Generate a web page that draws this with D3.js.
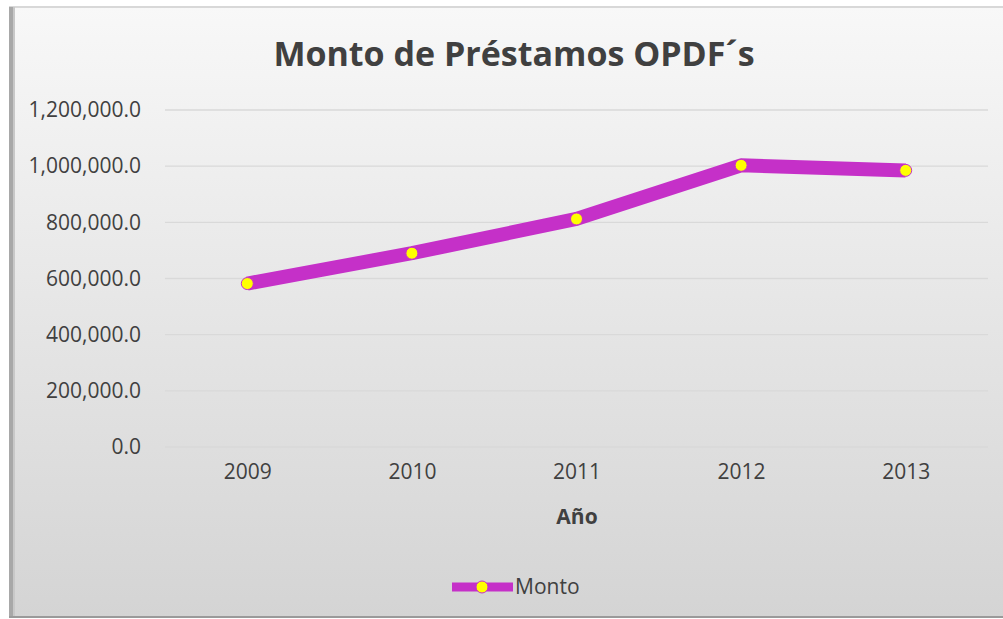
<!DOCTYPE html>
<html lang="es">
<head>
  <meta charset="UTF-8">
  <title>Monto de Préstamos OPDF´s</title>
  <script src="https://d3js.org/d3.v7.min.js"></script>
  <style>
    body { margin: 0; background: #ffffff; }
    svg text { font-family: "Open Sans", sans-serif; fill: #404040; }
  </style>
</head>
<body>
  <svg width="1003" height="619"></svg>
  <script>
    // data
    const years = ["2009", "2010", "2011", "2012", "2013"];
    const monto = [582000, 690000, 812000, 1003000, 985000];
    const yTicks = [0, 200000, 400000, 600000, 800000, 1000000, 1200000];

    const W = 1003, H = 619;
    const margin = { top: 110, right: 15, bottom: 172, left: 165 };
    const width = W - margin.left - margin.right;
    const height = H - margin.top - margin.bottom;

    const svg = d3.select("svg");

    // background gradient
    const defs = svg.append("defs");
    const grad = defs.append("linearGradient")
      .attr("id", "bg").attr("x1", 0).attr("y1", 0).attr("x2", 0).attr("y2", 1);
    grad.append("stop").attr("offset", "0%").attr("stop-color", "#f8f8f8");
    grad.append("stop").attr("offset", "100%").attr("stop-color", "#d4d4d4");

    svg.append("rect").attr("x", 9).attr("y", 6).attr("width", W - 9).attr("height", 611)
      .attr("fill", "url(#bg)");
    // frame edges
    svg.append("line").attr("x1", 9).attr("x2", W).attr("y1", 7).attr("y2", 7)
      .attr("stroke", "#d8d8d8").attr("stroke-width", 2);
    svg.append("rect").attr("x", 9).attr("y", 7).attr("width", 4).attr("height", 610)
      .attr("fill", "#a8a8a8");
    svg.append("rect").attr("x", 13).attr("y", 7).attr("width", 2).attr("height", 610)
      .attr("fill", "#c8c8c8");
    svg.append("line").attr("x1", 9).attr("x2", W).attr("y1", 617).attr("y2", 617)
      .attr("stroke", "#9a9a9a").attr("stroke-width", 2);

    const g = svg.append("g").attr("transform", `translate(${margin.left},${margin.top})`);

    const x = d3.scalePoint().domain(years).range([0, width]).padding(0.5);
    const y = d3.scaleLinear().domain([0, 1200000]).range([height, 0]);

    // gridlines
    g.selectAll(".grid").data(yTicks).enter().append("line")
      .attr("x1", 0).attr("x2", width)
      .attr("y1", d => y(d)).attr("y2", d => y(d))
      .attr("stroke", "#d9d9d9").attr("stroke-width", 1.3);

    // y axis
    const fmt = d3.format(",.1f");
    const yAxis = g.append("g")
      .call(d3.axisLeft(y).tickValues(yTicks).tickFormat(fmt).tickSize(0).tickPadding(24));
    yAxis.select(".domain").remove();
    yAxis.selectAll("text").attr("font-size", 21).style("font-family", "'Open Sans', sans-serif").attr("fill", "#404040");

    // x axis
    const xAxis = g.append("g").attr("transform", `translate(0,${height})`)
      .call(d3.axisBottom(x).tickSize(0).tickPadding(17));
    xAxis.select(".domain").remove();
    xAxis.selectAll("text").attr("font-size", 21).style("font-family", "'Open Sans', sans-serif").attr("fill", "#404040");

    // line
    const line = d3.line().x((d, i) => x(years[i])).y(d => y(d));
    g.append("path").datum(monto)
      .attr("fill", "none")
      .attr("stroke", "#c530c8")
      .attr("stroke-width", 14)
      .attr("stroke-linejoin", "round")
      .attr("d", line);

    g.selectAll(".pt").data(monto).enter().append("circle")
      .attr("cx", (d, i) => x(years[i]))
      .attr("cy", d => y(d))
      .attr("r", 6)
      .attr("fill", "#ffff00")
      .attr("stroke", "#c530c8")
      .attr("stroke-width", 1);

    // title
    svg.append("text").attr("x", 514).attr("y", 66)
      .attr("text-anchor", "middle")
      .attr("font-size", 34).attr("font-weight", "bold")
      .text("Monto de Préstamos OPDF´s");

    // x axis title
    svg.append("text").attr("x", 577).attr("y", 524)
      .attr("text-anchor", "middle")
      .attr("font-size", 21).attr("font-weight", "bold")
      .text("Año");

    // legend
    const lg = svg.append("g").attr("transform", "translate(452,587)");
    lg.append("line").attr("x1", 0).attr("x2", 61).attr("y1", 0).attr("y2", 0)
      .attr("stroke", "#c530c8").attr("stroke-width", 9);
    lg.append("circle").attr("cx", 30).attr("cy", 0).attr("r", 6)
      .attr("fill", "#ffff00").attr("stroke", "#c530c8").attr("stroke-width", 1);
    lg.append("text").attr("x", 63).attr("y", 7).attr("font-size", 21).text("Monto");
  </script>
</body>
</html>
